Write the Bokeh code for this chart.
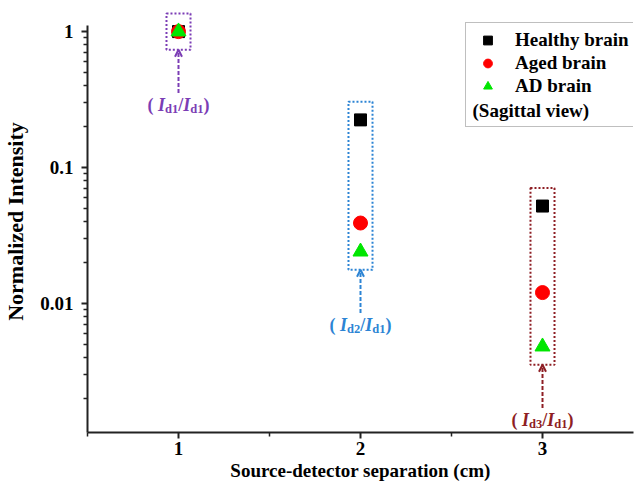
from bokeh.plotting import figure
from bokeh.models import (Range1d, FixedTicker, CustomJSTickFormatter, Legend, LegendItem,
                          Arrow, OpenHead, Label)
from bokeh.embed import file_html
from bokeh.resources import INLINE

# ---------------- data ----------------
separation = [1, 2, 3]                 # source-detector separation (cm)
healthy = [1.0, 0.224, 0.052]
aged = [1.0, 0.039, 0.012]
ad = [1.0, 0.024, 0.0048]
series_names = ["Healthy brain", "Aged brain", "AD brain"]
x_ticks = [1, 2, 3]
y_ticks = [0.01, 0.1, 1]
ratio_num = ["d1", "d2", "d3"]
ratio_den = ["d1", "d1", "d1"]
group_colors = ["#7B3DB5", "#2C84D4", "#8E1E24"]

FONT = "Liberation Serif"

p = figure(width=635, height=492,
           x_range=Range1d(0.5, 3.5), y_range=Range1d(0.00112, 1.43),
           y_axis_type="log", output_backend="svg", toolbar_location=None,
           min_border_left=86, min_border_right=2, min_border_top=10, min_border_bottom=60)
p.outline_line_color = None
p.xgrid.visible = False
p.ygrid.visible = False
p.background_fill_color = "white"
p.border_fill_color = "white"

for ax in (p.xaxis[0], p.yaxis[0]):
    ax.axis_line_width = 2
    ax.axis_line_color = "#222222"
    ax.major_tick_line_width = 2
    ax.major_tick_line_color = "#222222"
    ax.minor_tick_line_width = 1.5
    ax.minor_tick_line_color = "#222222"
    ax.major_tick_in = 0
    ax.major_tick_out = 6
    ax.minor_tick_in = 0
    ax.minor_tick_out = 4
    ax.major_label_text_font = FONT
    ax.major_label_text_font_style = "bold"
    ax.major_label_text_font_size = "19px"
    ax.major_label_text_color = "black"
    ax.axis_label_text_font = FONT
    ax.axis_label_text_font_style = "bold"
    ax.axis_label_text_color = "black"

xa = p.xaxis[0]
xa.ticker = FixedTicker(ticks=x_ticks, minor_ticks=[t - 0.5 for t in x_ticks])
xa.axis_label = "Source-detector separation (cm)"
xa.axis_label_text_font_size = "19px"
xa.major_label_standoff = 3
xa.axis_label_standoff = 2

ya = p.yaxis[0]
ya.ticker = FixedTicker(ticks=y_ticks,
                        minor_ticks=[k * t / 10 for t in y_ticks for k in range(2, 10)])
ya.formatter = CustomJSTickFormatter(code="return tick.toString();")
ya.axis_label = "Normalized Intensity"
ya.axis_label_text_font_size = "22px"
ya.major_label_standoff = 8
ya.axis_label_standoff = 9
ya.bounds = (0.00112, 1.1)

# ---------------- data marks ----------------
r_h = p.scatter(separation, healthy, marker="square", size=12, color="black")
r_a = p.scatter(separation, aged, marker="circle", size=14, color="#FF0000")
r_d = p.scatter(separation, ad, marker="triangle", size=15, color="#00E600")

# ---------------- dotted group boxes ----------------
groups = list(zip(healthy, aged, ad))
tops = [max(g) * 1.36 for g in groups]
bottoms = [min(g) / 1.36 for g in groups]
half_w = 0.066
p.quad(left=[s - half_w for s in separation], right=[s + half_w for s in separation],
       top=tops, bottom=bottoms, fill_color=None, line_color=group_colors,
       line_dash="2 2", line_width=2)

# ---------------- arrows and ratio labels ----------------
EM = {"(": .333, ")": .333, "/": .278, "I": .389, "d": .556, "1": .5, "2": .5, "3": .5, " ": .25}
MAIN, SUB = 18, 12.5


def add_ratio_label(x, y, num, den, color):
    segs = [("(", "bold", MAIN, 0), (" ", "bold", MAIN, 0),
            ("I", "bold italic", MAIN, 0), (num, "bold", SUB, -4),
            ("/", "bold", MAIN, 0),
            ("I", "bold italic", MAIN, 0), (den, "bold", SUB, -4),
            (")", "bold", MAIN, 0)]
    widths = [sum(EM[c] for c in t) * sz for t, _, sz, _ in segs]
    off = -sum(widths) / 2
    for (t, st, sz, dy), w in zip(segs, widths):
        if t.strip():
            p.add_layout(Label(x=x, y=y, x_offset=off, y_offset=-12 + dy, text=t,
                               text_font=FONT, text_font_style=st,
                               text_font_size=f"{sz}px", text_color=color,
                               text_align="left", text_baseline="alphabetic"))
        off += w


for s, b, c, n, d in zip(separation, bottoms, group_colors, ratio_num, ratio_den):
    tail = b * 0.48
    p.add_layout(Arrow(end=OpenHead(size=7, line_color=c, line_width=2),
                       x_start=s, y_start=tail, x_end=s, y_end=b,
                       line_color=c, line_width=2, line_dash="4 2"))
    add_ratio_label(s, tail, n, d, c)

# ---------------- legend ----------------
dummy = p.scatter([], [], marker="square", size=0, alpha=0)
items = [LegendItem(label=n, renderers=[r]) for n, r in zip(series_names, [r_h, r_a, r_d])]
items.append(LegendItem(label=" ", renderers=[dummy]))
LX, LY = 378, 305
PAD = 6
legend = Legend(items=items, location=(LX, LY), padding=PAD, spacing=1,
                label_height=22, glyph_height=22, glyph_width=31, label_standoff=12,
                label_text_font=FONT, label_text_font_style="bold",
                label_text_font_size="19px", label_text_color="black",
                border_line_color="#808080", border_line_width=1.5,
                background_fill_alpha=0.0)
p.add_layout(legend)
p.add_layout(Label(x=LX + PAD + 1, y=LY + PAD + 11, x_units="screen", y_units="screen",
                   text="(Sagittal view)", text_font=FONT, text_font_style="bold",
                   text_font_size="19px", text_color="black",
                   text_align="left", text_baseline="middle"))

open("out.html", "w").write(file_html(p, INLINE))
